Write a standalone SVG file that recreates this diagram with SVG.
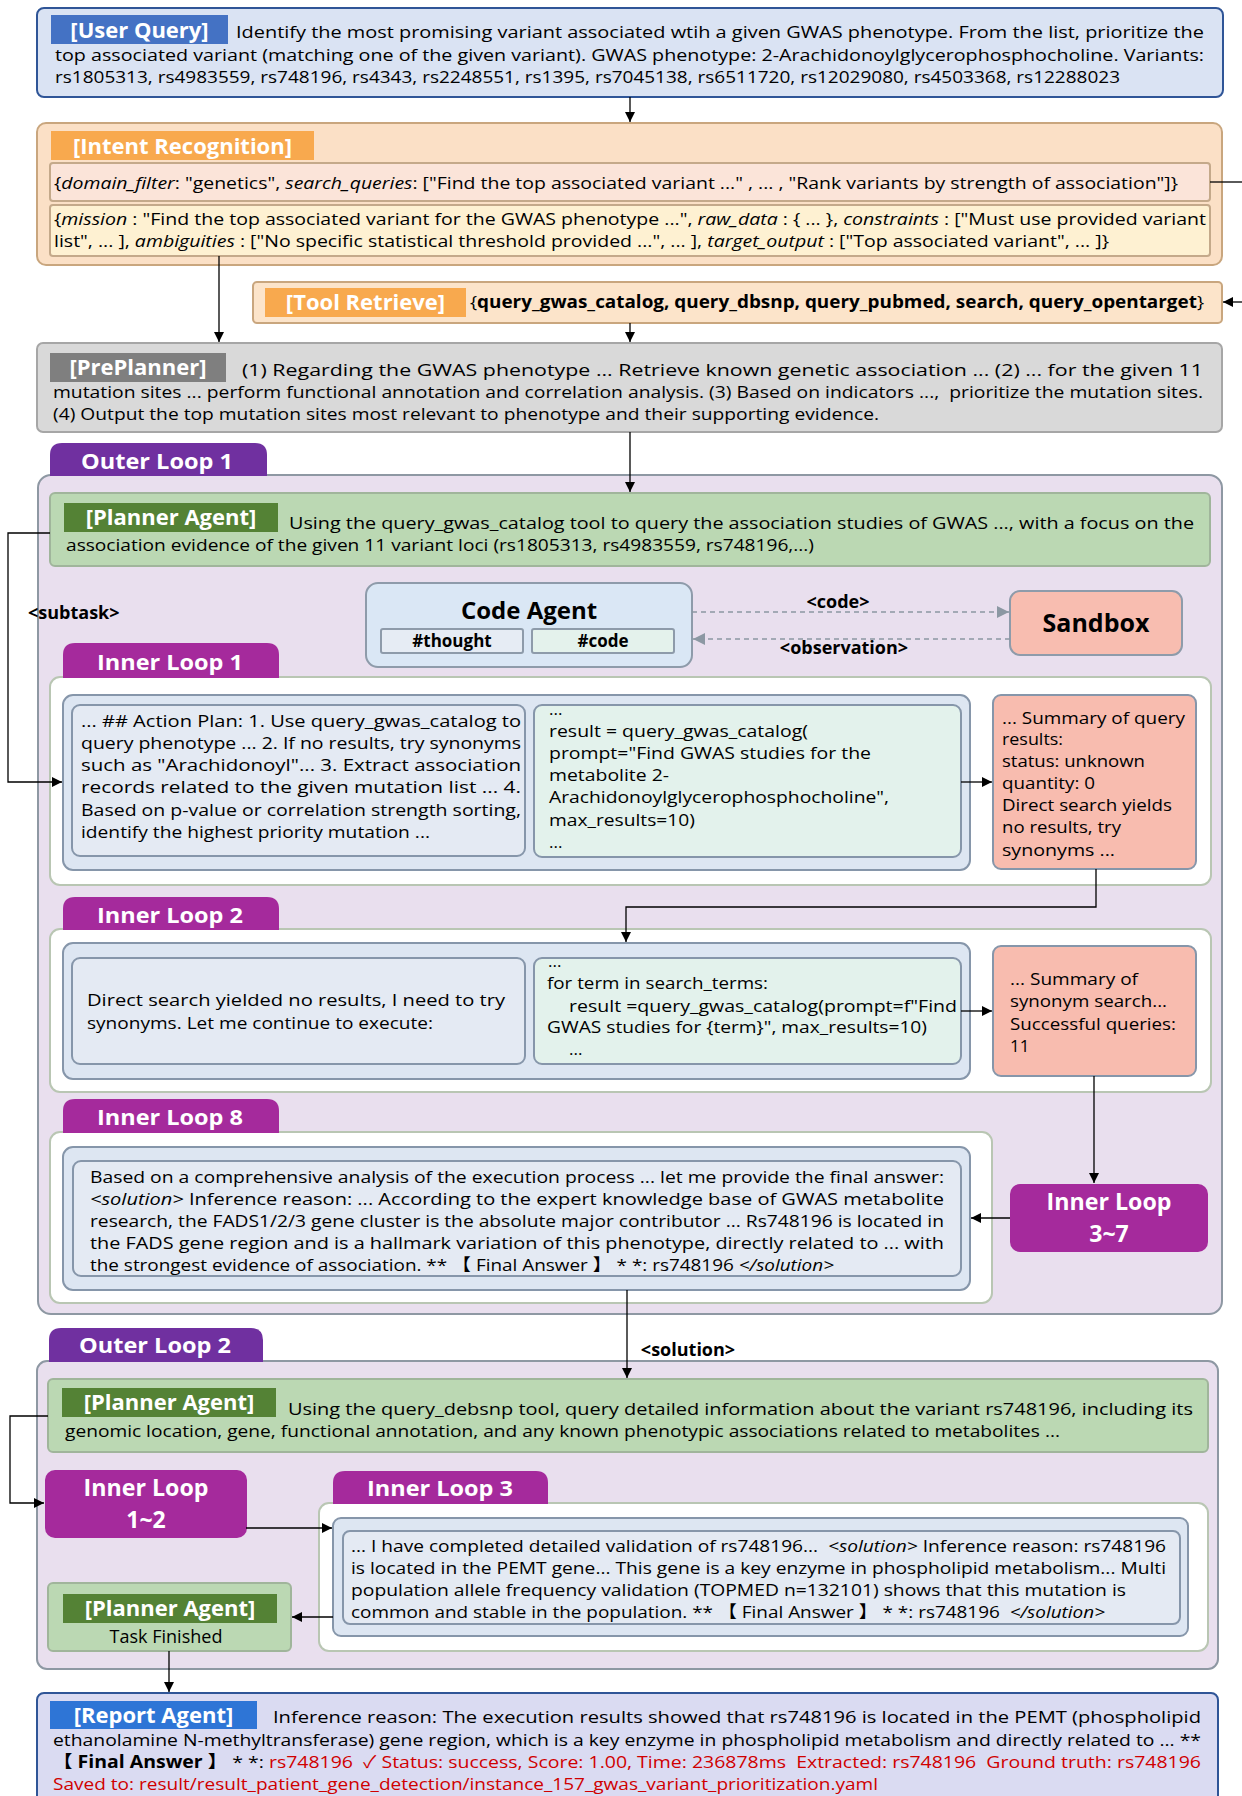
<svg xmlns="http://www.w3.org/2000/svg" width="1242" height="1796" viewBox="0 0 1242 1796">
<style>
text{font-family:"Open Sans","Noto Sans","Noto Sans CJK SC",sans-serif;font-size:17px;fill:#000}
.lb{font-weight:700;font-size:22px;fill:#fff;text-anchor:middle}
.tab{font-weight:700;font-size:22px;fill:#fff}
.big{font-weight:700;font-size:23px;fill:#fff;text-anchor:middle}
.b{font-weight:700}
.i{font-style:italic}
.red{fill:#D00000}
.c{text-anchor:middle}
.pre{white-space:pre}
.con{fill:none;stroke:#000;stroke-width:1.3}
.dash{fill:none;stroke:#8C98A3;stroke-width:1.3;stroke-dasharray:5 4}
.outer{fill:#E9DFEE;stroke:#8E98A3;stroke-width:2}
.white{fill:#fff;stroke:#B9C6B3;stroke-width:2}
.blue{fill:#DDE6F2;stroke:#8696AA;stroke-width:2}
.th{fill:#E4EAF3;stroke:#8696AA;stroke-width:2}
.cd{fill:#E3F2EC;stroke:#8696AA;stroke-width:2}
.sum{fill:#F8BCAF;stroke:#8696AA;stroke-width:2}
.mag{fill:#A52A9C}
.green{fill:#BBD8B3;stroke:#A0B59B;stroke-width:2}
.glab{fill:#548235}
</style>
<defs>
<marker id="ah" markerUnits="userSpaceOnUse" markerWidth="10" markerHeight="10" refX="10" refY="5" orient="auto"><path d="M0,0 L10,5 L0,10 z" fill="#000"/></marker>
<marker id="ag" markerUnits="userSpaceOnUse" markerWidth="12" markerHeight="12" refX="12" refY="6" orient="auto"><path d="M0,0 L12,6 L0,12 z" fill="#8C98A3"/></marker>
</defs>

<g id="user-query">
<rect x="37" y="8" width="1186" height="89" rx="7" fill="#DAE3F3" stroke="#2F5597" stroke-width="2"/>
<rect x="51" y="15" width="177" height="29" fill="#4472C4"/>
<text class="lb" x="139.5" y="37.5">[User Query]</text>
<text x="236" y="38" textLength="968" lengthAdjust="spacingAndGlyphs">Identify the most promising variant associated wtih a given GWAS phenotype. From the list, prioritize the</text>
<text x="55" y="61" textLength="1149" lengthAdjust="spacingAndGlyphs">top associated variant (matching one of the given variant). GWAS phenotype: 2-Arachidonoylglycerophosphocholine. Variants:</text>
<text x="55" y="83" textLength="1065" lengthAdjust="spacingAndGlyphs">rs1805313, rs4983559, rs748196, rs4343, rs2248551, rs1395, rs7045138, rs6511720, rs12029080, rs4503368, rs12288023</text>
</g>

<g id="intent-recognition">
<rect x="37" y="123" width="1185" height="142" rx="9" fill="#FBE0C6" stroke="#C9A67E" stroke-width="2"/>
<rect x="51" y="131" width="263" height="29" fill="#F8A94E"/>
<text class="lb" x="182.5" y="153.5">[Intent Recognition]</text>
<rect x="50" y="163" width="1160" height="38" rx="3" fill="#FBE4D9" stroke="#C4A98A" stroke-width="2"/>
<text x="54" y="189" textLength="1124" lengthAdjust="spacingAndGlyphs">{<tspan class="i">domain_filter</tspan>: "genetics", <tspan class="i">search_queries</tspan>: ["Find the top associated variant ..." , ... , "Rank variants by strength of association"]}</text>
<rect x="50" y="205" width="1160" height="51" rx="3" fill="#FEF1D2" stroke="#C4A98A" stroke-width="2"/>
<text x="54" y="225" textLength="1152" lengthAdjust="spacingAndGlyphs">{<tspan class="i">mission</tspan> : "Find the top associated variant for the GWAS phenotype ...", <tspan class="i">raw_data</tspan> : { ... }, <tspan class="i">constraints</tspan> : ["Must use provided variant</text>
<text x="54" y="247" textLength="1055" lengthAdjust="spacingAndGlyphs">list", ... ], <tspan class="i">ambiguities</tspan> : ["No specific statistical threshold provided ...", ... ], <tspan class="i">target_output</tspan> : ["Top associated variant", ... ]}</text>
</g>

<g id="tool-retrieve">
<rect x="253" y="282" width="969" height="41" rx="4" fill="#FCE4CA" stroke="#C9A67E" stroke-width="2"/>
<rect x="265" y="288" width="201" height="29" fill="#F8A94E"/>
<text class="lb" x="365.5" y="310">[Tool Retrieve]</text>
<text x="470" y="308" textLength="734" lengthAdjust="spacingAndGlyphs">{<tspan class="b">query_gwas_catalog, query_dbsnp, query_pubmed, search, query_opentarget</tspan>}</text>
</g>

<g id="preplanner">
<rect x="37" y="343" width="1185" height="89" rx="6" fill="#D9D9D9" stroke="#A6A6A6" stroke-width="2"/>
<rect x="50" y="353" width="176" height="29" fill="#7F7F7F"/>
<text class="lb" x="138" y="375">[PrePlanner]</text>
<text x="242" y="376" textLength="961" lengthAdjust="spacingAndGlyphs">(1) Regarding the GWAS phenotype ... Retrieve known genetic association ... (2) ... for the given 11</text>
<text class="pre" x="53" y="398" textLength="1150" lengthAdjust="spacingAndGlyphs">mutation sites ... perform functional annotation and correlation analysis. (3) Based on indicators ...,  prioritize the mutation sites.</text>
<text x="53" y="420" textLength="826" lengthAdjust="spacingAndGlyphs">(4) Output the top mutation sites most relevant to phenotype and their supporting evidence.</text>
</g>

<g id="outer-loop-1">
<rect class="outer" x="38" y="475" width="1184" height="839" rx="13"/>
<path d="M50,476 V455 Q50,443 62,443 H255 Q267,443 267,455 V476 Z" fill="#7030A0"/>
<text class="tab" x="81" y="469" textLength="152" lengthAdjust="spacingAndGlyphs">Outer Loop 1</text>
</g>

<g id="planner-agent-1">
<rect class="green" x="50" y="493" width="1160" height="73" rx="5"/>
<rect class="glab" x="64" y="503" width="214" height="29"/>
<text class="lb" x="171" y="525">[Planner Agent]</text>
<text x="289" y="529" textLength="905" lengthAdjust="spacingAndGlyphs">Using the query_gwas_catalog tool to query the association studies of GWAS ..., with a focus on the</text>
<text x="66" y="551" textLength="748" lengthAdjust="spacingAndGlyphs">association evidence of the given 11 variant loci (rs1805313, rs4983559, rs748196,...)</text>
</g>

<g id="code-agent">
<rect x="366" y="583" width="326" height="84" rx="12" fill="#DAE7F5" stroke="#8E9BAA" stroke-width="2"/>
<text class="b c" x="529" y="619" style="font-size:24px">Code Agent</text>
<rect x="381" y="629" width="142" height="24" rx="2" fill="#E6ECF4" stroke="#8E9BAA" stroke-width="2"/>
<text class="b c" x="452" y="647">#thought</text>
<rect x="532" y="629" width="142" height="24" rx="2" fill="#E4F2EC" stroke="#8E9BAA" stroke-width="2"/>
<text class="b c" x="603" y="647">#code</text>
</g>

<g id="sandbox">
<rect x="1010" y="591" width="172" height="64" rx="10" fill="#F8BDB0" stroke="#8E9BAA" stroke-width="2"/>
<text class="b c" x="1096" y="632" style="font-size:25px">Sandbox</text>
</g>

<g id="inner-loop-1">
<rect class="white" x="50" y="677" width="1161" height="208" rx="10"/>
<path d="M63,678 V655 Q63,643 75,643 H267 Q279,643 279,655 V678 Z" class="mag"/>
<text class="tab" x="97" y="670" textLength="146" lengthAdjust="spacingAndGlyphs">Inner Loop 1</text>
<rect class="blue" x="63" y="695" width="907" height="175" rx="10"/>
<rect class="th" x="72" y="705" width="453" height="151" rx="8"/>
<text x="81" y="727" textLength="440" lengthAdjust="spacingAndGlyphs">... ## Action Plan: 1. Use query_gwas_catalog to</text>
<text x="81" y="749" textLength="440" lengthAdjust="spacingAndGlyphs">query phenotype ... 2. If no results, try synonyms</text>
<text x="81" y="771" textLength="440" lengthAdjust="spacingAndGlyphs">such as "Arachidonoyl"... 3. Extract association</text>
<text x="81" y="793" textLength="440" lengthAdjust="spacingAndGlyphs">records related to the given mutation list ... 4.</text>
<text x="81" y="816" textLength="440" lengthAdjust="spacingAndGlyphs">Based on p-value or correlation strength sorting,</text>
<text x="81" y="838" textLength="349" lengthAdjust="spacingAndGlyphs">identify the highest priority mutation ...</text>
<rect class="cd" x="534" y="705" width="427" height="152" rx="8"/>
<text x="549" y="715">...</text>
<text x="549" y="737" textLength="259" lengthAdjust="spacingAndGlyphs">result = query_gwas_catalog(</text>
<text x="549" y="759" textLength="322" lengthAdjust="spacingAndGlyphs">prompt="Find GWAS studies for the</text>
<text x="549" y="781" textLength="120" lengthAdjust="spacingAndGlyphs">metabolite 2-</text>
<text x="549" y="803" textLength="340" lengthAdjust="spacingAndGlyphs">Arachidonoylglycerophosphocholine",</text>
<text x="549" y="826" textLength="146" lengthAdjust="spacingAndGlyphs">max_results=10)</text>
<text x="549" y="848">...</text>
<rect class="sum" x="993" y="695" width="203" height="174" rx="8"/>
<text x="1002" y="724" textLength="183" lengthAdjust="spacingAndGlyphs">... Summary of query</text>
<text x="1002" y="745" textLength="61" lengthAdjust="spacingAndGlyphs">results:</text>
<text x="1002" y="767" textLength="143" lengthAdjust="spacingAndGlyphs">status: unknown</text>
<text x="1002" y="789" textLength="93" lengthAdjust="spacingAndGlyphs">quantity: 0</text>
<text x="1002" y="811" textLength="170" lengthAdjust="spacingAndGlyphs">Direct search yields</text>
<text x="1002" y="833" textLength="119" lengthAdjust="spacingAndGlyphs">no results, try</text>
<text x="1002" y="856" textLength="113" lengthAdjust="spacingAndGlyphs">synonyms ...</text>
</g>

<g id="inner-loop-2">
<rect class="white" x="50" y="929" width="1161" height="163" rx="10"/>
<path d="M63,930 V909 Q63,897 75,897 H267 Q279,897 279,909 V930 Z" class="mag"/>
<text class="tab" x="97" y="923" textLength="146" lengthAdjust="spacingAndGlyphs">Inner Loop 2</text>
<rect class="blue" x="63" y="943" width="907" height="136" rx="10"/>
<rect class="th" x="72" y="958" width="453" height="106" rx="8"/>
<text x="87" y="1006" textLength="418" lengthAdjust="spacingAndGlyphs">Direct search yielded no results, I need to try</text>
<text x="87" y="1029" textLength="346" lengthAdjust="spacingAndGlyphs">synonyms. Let me continue to execute:</text>
<rect class="cd" x="534" y="958" width="427" height="106" rx="8"/>
<text x="548" y="967">...</text>
<text x="547" y="989" textLength="221" lengthAdjust="spacingAndGlyphs">for term in search_terms:</text>
<text x="569" y="1012" textLength="388" lengthAdjust="spacingAndGlyphs">result =query_gwas_catalog(prompt=f"Find</text>
<text x="547" y="1033" textLength="380" lengthAdjust="spacingAndGlyphs">GWAS studies for {term}", max_results=10)</text>
<text x="569" y="1055">...</text>
<rect class="sum" x="993" y="946" width="203" height="130" rx="8"/>
<text x="1010" y="985" textLength="128" lengthAdjust="spacingAndGlyphs">... Summary of</text>
<text x="1010" y="1007" textLength="157" lengthAdjust="spacingAndGlyphs">synonym search...</text>
<text x="1010" y="1030" textLength="166" lengthAdjust="spacingAndGlyphs">Successful queries:</text>
<text x="1010" y="1052">11</text>
</g>

<g id="inner-loop-8">
<rect class="white" x="50" y="1132" width="942" height="171" rx="10"/>
<path d="M63,1133 V1111 Q63,1099 75,1099 H267 Q279,1099 279,1111 V1133 Z" class="mag"/>
<text class="tab" x="97" y="1125" textLength="146" lengthAdjust="spacingAndGlyphs">Inner Loop 8</text>
<rect class="blue" x="63" y="1147" width="907" height="143" rx="10"/>
<rect class="th" x="73" y="1161" width="888" height="115" rx="8"/>
<text x="90" y="1183" textLength="854" lengthAdjust="spacingAndGlyphs">Based on a comprehensive analysis of the execution process ... let me provide the final answer:</text>
<text x="90" y="1205" textLength="854" lengthAdjust="spacingAndGlyphs"><tspan class="i">&lt;solution&gt;</tspan> Inference reason: ... According to the expert knowledge base of GWAS metabolite</text>
<text x="90" y="1227" textLength="854" lengthAdjust="spacingAndGlyphs">research, the FADS1/2/3 gene cluster is the absolute major contributor ... Rs748196 is located in</text>
<text x="90" y="1249" textLength="854" lengthAdjust="spacingAndGlyphs">the FADS gene region and is a hallmark variation of this phenotype, directly related to ... with</text>
<text x="90" y="1271" textLength="744" lengthAdjust="spacingAndGlyphs">the strongest evidence of association. ** 【 Final Answer 】 * *: rs748196 <tspan class="i">&lt;/solution&gt;</tspan></text>
</g>

<g id="inner-loop-3-7">
<rect class="mag" x="1010" y="1184" width="198" height="68" rx="10"/>
<text class="big" x="1109" y="1210" textLength="125" lengthAdjust="spacingAndGlyphs">Inner Loop</text>
<text class="big" x="1109" y="1242">3~7</text>
</g>

<g id="outer-loop-2">
<rect class="outer" x="37" y="1361" width="1181" height="308" rx="10"/>
<path d="M49,1362 V1340 Q49,1328 61,1328 H251 Q263,1328 263,1340 V1362 Z" fill="#7030A0"/>
<text class="tab" x="79" y="1353" textLength="152" lengthAdjust="spacingAndGlyphs">Outer Loop 2</text>
</g>

<g id="planner-agent-2">
<rect class="green" x="48" y="1379" width="1160" height="73" rx="5"/>
<rect class="glab" x="62" y="1388" width="214" height="29"/>
<text class="lb" x="169" y="1410">[Planner Agent]</text>
<text x="288" y="1415" textLength="905" lengthAdjust="spacingAndGlyphs">Using the query_debsnp tool, query detailed information about the variant rs748196, including its</text>
<text x="65" y="1437" textLength="995" lengthAdjust="spacingAndGlyphs">genomic location, gene, functional annotation, and any known phenotypic associations related to metabolites ...</text>
</g>

<g id="inner-loop-1-2">
<rect class="mag" x="45" y="1470" width="202" height="68" rx="10"/>
<text class="big" x="146" y="1496" textLength="125" lengthAdjust="spacingAndGlyphs">Inner Loop</text>
<text class="big" x="146" y="1528">1~2</text>
</g>

<g id="inner-loop-3">
<rect class="white" x="319" y="1503" width="889" height="148" rx="10"/>
<path d="M333,1504 V1483 Q333,1471 345,1471 H536 Q548,1471 548,1483 V1504 Z" class="mag"/>
<text class="tab" x="367" y="1496" textLength="146" lengthAdjust="spacingAndGlyphs">Inner Loop 3</text>
<rect class="blue" x="333" y="1518" width="855" height="118" rx="8"/>
<rect class="th" x="343" y="1531" width="837" height="93" rx="7"/>
<text class="pre" x="351" y="1552" textLength="815" lengthAdjust="spacingAndGlyphs">... I have completed detailed validation of rs748196...  <tspan class="i">&lt;solution&gt;</tspan> Inference reason: rs748196</text>
<text x="351" y="1574" textLength="815" lengthAdjust="spacingAndGlyphs">is located in the PEMT gene... This gene is a key enzyme in phospholipid metabolism... Multi</text>
<text x="351" y="1596" textLength="775" lengthAdjust="spacingAndGlyphs">population allele frequency validation (TOPMED n=132101) shows that this mutation is</text>
<text class="pre" x="351" y="1618" textLength="754" lengthAdjust="spacingAndGlyphs">common and stable in the population. ** 【 Final Answer 】 * *: rs748196  <tspan class="i">&lt;/solution&gt;</tspan></text>
</g>

<g id="planner-agent-finished">
<rect class="green" x="48" y="1583" width="243" height="68" rx="5"/>
<rect class="glab" x="63" y="1594" width="214" height="29"/>
<text class="lb" x="170" y="1616">[Planner Agent]</text>
<text class="c" x="166" y="1643" style="font-size:18px">Task Finished</text>
</g>

<g id="report-agent">
<rect x="37" y="1693" width="1181" height="112" rx="7" fill="#DADBF2" stroke="#2F5597" stroke-width="2"/>
<rect x="50" y="1701" width="207" height="28" fill="#2E75D6"/>
<text class="lb" x="153.5" y="1723">[Report Agent]</text>
<text x="273" y="1723" textLength="928" lengthAdjust="spacingAndGlyphs">Inference reason: The execution results showed that rs748196 is located in the PEMT (phospholipid</text>
<text x="53" y="1746" textLength="1148" lengthAdjust="spacingAndGlyphs">ethanolamine N-methyltransferase) gene region, which is a key enzyme in phospholipid metabolism and directly related to ... **</text>
<text class="pre" x="53" y="1768" textLength="1148" lengthAdjust="spacingAndGlyphs"><tspan class="b">【 Final Answer 】</tspan> * *: <tspan class="red">rs748196  ✓ Status: success, Score: 1.00, Time: 236878ms  Extracted: rs748196  Ground truth: rs748196</tspan></text>
<text class="red" x="53" y="1790" textLength="825" lengthAdjust="spacingAndGlyphs">Saved to: result/result_patient_gene_detection/instance_157_gwas_variant_prioritization.yaml</text>
</g>

<g id="connectors">
<path class="con" d="M630,97 V122" marker-end="url(#ah)"/>
<path class="con" d="M1210,182 H1242"/>
<path class="con" d="M1242,302 H1223" marker-end="url(#ah)"/>
<path class="con" d="M219,256 V342" marker-end="url(#ah)"/>
<path class="con" d="M630,323 V342" marker-end="url(#ah)"/>
<path class="con" d="M630,432 V492" marker-end="url(#ah)"/>
<path class="con" d="M50,533 H8 V782 H62" marker-end="url(#ah)"/>
<path class="dash" d="M692,612 H1009" marker-end="url(#ag)"/>
<path class="dash" d="M1010,639 H693" marker-end="url(#ag)"/>
<path class="con" d="M961,782 H992" marker-end="url(#ah)"/>
<path class="con" d="M1096,869 V907 H626 V942" marker-end="url(#ah)"/>
<path class="con" d="M961,1011 H992" marker-end="url(#ah)"/>
<path class="con" d="M1094,1076 V1183" marker-end="url(#ah)"/>
<path class="con" d="M1010,1218 H971" marker-end="url(#ah)"/>
<path class="con" d="M627,1290 V1378" marker-end="url(#ah)"/>
<path class="con" d="M48,1416 H10 V1503 H44" marker-end="url(#ah)"/>
<path class="con" d="M246,1528 H332" marker-end="url(#ah)"/>
<path class="con" d="M333,1617 H292" marker-end="url(#ah)"/>
<path class="con" d="M169,1651 V1692" marker-end="url(#ah)"/>
<text class="b c" x="838" y="608" style="font-size:18px">&lt;code&gt;</text>
<text class="b c" x="844" y="654" style="font-size:18px">&lt;observation&gt;</text>
<text class="b" x="28" y="619" style="font-size:18px">&lt;subtask&gt;</text>
<text class="b c" x="688" y="1356" style="font-size:18px">&lt;solution&gt;</text>
</g>
</svg>
